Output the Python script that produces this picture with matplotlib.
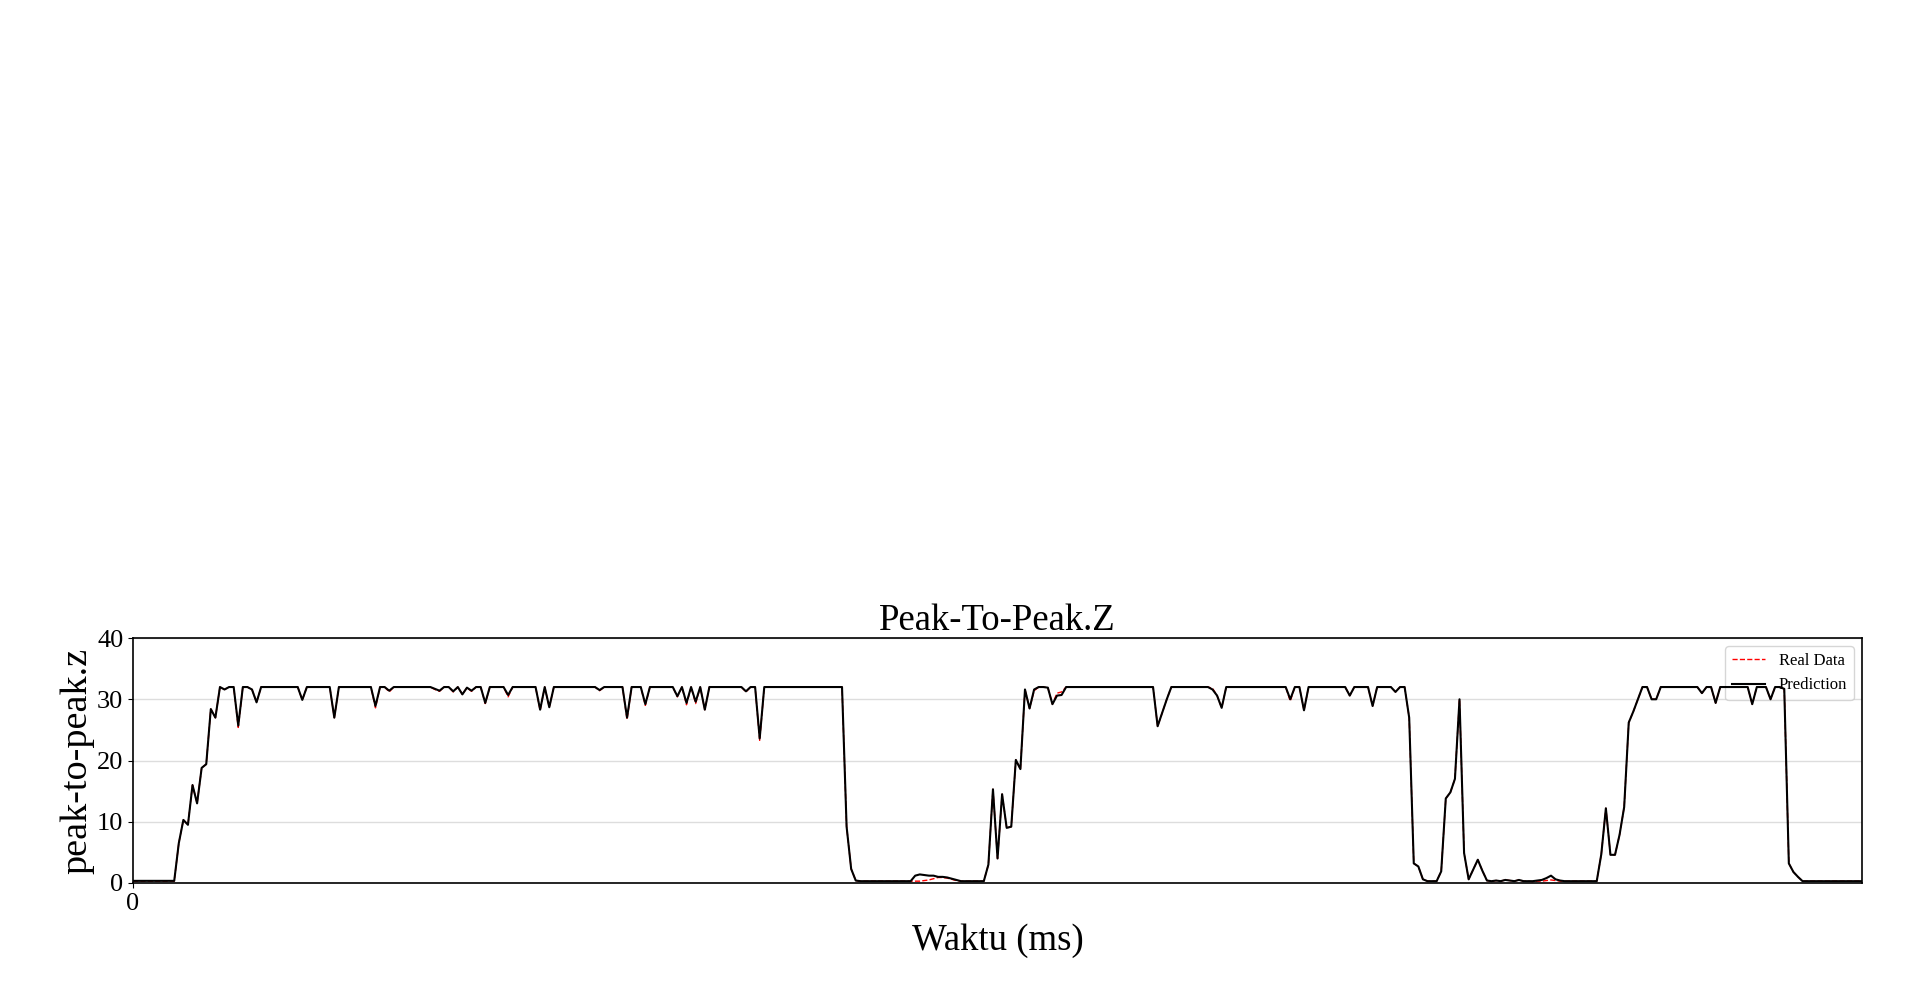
import matplotlib
matplotlib.use('Agg')
from matplotlib import pyplot as plt

plt.rcParams['font.family'] = ['Liberation Serif', 'DejaVu Serif']

# values (one point per sample)
real_data = [
    0.3, 0.3, 0.3, 0.3, 0.3, 0.3, 0.3, 0.3, 0.3, 0.3, 6.5, 10.3, 9.5, 16.0, 13.0, 18.8, 19.4, 28.4, 27.0, 32.0,
    31.6, 32.0, 32.0, 25.4, 32.0, 32.0, 31.6, 29.5, 32.0, 32.0, 32.0, 32.0, 32.0, 32.0, 32.0, 32.0, 32.0, 29.9, 32.0, 32.0,
    32.0, 32.0, 32.0, 32.0, 27.0, 32.0, 32.0, 32.0, 32.0, 32.0, 32.0, 32.0, 32.0, 28.6, 32.0, 32.0, 31.2, 32.0, 32.0, 32.0,
    32.0, 32.0, 32.0, 32.0, 32.0, 32.0, 31.6, 31.3, 32.0, 32.0, 31.2, 32.0, 30.8, 31.9, 31.3, 32.0, 32.0, 29.3, 32.0, 32.0,
    32.0, 32.0, 30.4, 32.0, 32.0, 32.0, 32.0, 32.0, 32.0, 28.2, 32.0, 28.7, 32.0, 32.0, 32.0, 32.0, 32.0, 32.0, 32.0, 32.0,
    32.0, 32.0, 31.4, 32.0, 32.0, 32.0, 32.0, 32.0, 26.7, 32.0, 32.0, 32.0, 29.0, 32.0, 32.0, 32.0, 32.0, 32.0, 32.0, 30.4,
    32.0, 29.1, 32.0, 29.3, 32.0, 28.3, 32.0, 32.0, 32.0, 32.0, 32.0, 32.0, 32.0, 32.0, 31.2, 32.0, 32.0, 23.3, 32.0, 32.0,
    32.0, 32.0, 32.0, 32.0, 32.0, 32.0, 32.0, 32.0, 32.0, 32.0, 32.0, 32.0, 32.0, 32.0, 32.0, 32.0, 9.2, 2.3, 0.4, 0.3,
    0.3, 0.3, 0.3, 0.3, 0.3, 0.3, 0.3, 0.3, 0.3, 0.3, 0.3, 0.3, 0.3, 0.4, 0.5, 0.7, 0.9, 0.9, 0.8, 0.6,
    0.4, 0.3, 0.3, 0.3, 0.3, 0.3, 0.3, 3.0, 15.3, 4.0, 14.5, 9.0, 9.2, 20.1, 18.6, 31.6, 28.5, 31.4, 32.0, 32.0,
    31.9, 29.2, 31.0, 31.2, 32.0, 32.0, 32.0, 32.0, 32.0, 32.0, 32.0, 32.0, 32.0, 32.0, 32.0, 32.0, 32.0, 32.0, 32.0, 32.0,
    32.0, 32.0, 32.0, 32.0, 25.6, 27.8, 30.0, 32.0, 32.0, 32.0, 32.0, 32.0, 32.0, 32.0, 32.0, 32.0, 31.8, 30.6, 28.6, 32.0,
    32.0, 32.0, 32.0, 32.0, 32.0, 32.0, 32.0, 32.0, 32.0, 32.0, 32.0, 32.0, 32.0, 29.7, 32.0, 32.0, 28.2, 32.0, 32.0, 32.0,
    32.0, 32.0, 32.0, 32.0, 32.0, 32.0, 30.6, 32.0, 32.0, 32.0, 32.0, 28.9, 32.0, 32.0, 32.0, 32.0, 31.2, 32.0, 32.0, 27.0,
    3.2, 2.7, 0.6, 0.3, 0.3, 0.3, 1.9, 13.8, 14.8, 17.0, 30.0, 4.9, 0.6, 2.2, 3.8, 2.0, 0.4, 0.3, 0.4, 0.3,
    0.5, 0.4, 0.3, 0.5, 0.3, 0.3, 0.2, 0.3, 0.3, 0.4, 0.5, 0.4, 0.3, 0.3, 0.3, 0.3, 0.3, 0.3, 0.3, 0.3,
    0.3, 4.7, 12.2, 4.6, 4.6, 7.9, 12.4, 26.2, 28.0, 30.0, 32.0, 32.0, 30.0, 30.0, 32.0, 32.0, 32.0, 32.0, 32.0, 32.0,
    32.0, 32.0, 32.0, 31.0, 32.0, 32.0, 29.4, 32.0, 32.0, 32.0, 32.0, 32.0, 32.0, 32.0, 29.2, 32.0, 32.0, 32.0, 30.0, 32.0,
    32.0, 31.7, 3.2, 1.8, 1.0, 0.3, 0.3, 0.3, 0.3, 0.3, 0.3, 0.3, 0.3, 0.3, 0.3, 0.3, 0.3, 0.3, 0.3,
]

prediction = [
    0.35, 0.35, 0.35, 0.35, 0.35, 0.35, 0.35, 0.35, 0.35, 0.35, 6.5, 10.3, 9.5, 16.0, 13.0, 18.8, 19.4, 28.4, 27.0, 32.0,
    31.6, 32.0, 32.0, 25.7, 32.0, 32.0, 31.6, 29.5, 32.0, 32.0, 32.0, 32.0, 32.0, 32.0, 32.0, 32.0, 32.0, 29.9, 32.0, 32.0,
    32.0, 32.0, 32.0, 32.0, 27.0, 32.0, 32.0, 32.0, 32.0, 32.0, 32.0, 32.0, 32.0, 28.9, 32.0, 32.0, 31.4, 32.0, 32.0, 32.0,
    32.0, 32.0, 32.0, 32.0, 32.0, 32.0, 31.7, 31.4, 32.0, 32.0, 31.3, 32.0, 30.8, 31.9, 31.4, 32.0, 32.0, 29.4, 32.0, 32.0,
    32.0, 32.0, 30.7, 32.0, 32.0, 32.0, 32.0, 32.0, 32.0, 28.3, 32.0, 28.7, 32.0, 32.0, 32.0, 32.0, 32.0, 32.0, 32.0, 32.0,
    32.0, 32.0, 31.5, 32.0, 32.0, 32.0, 32.0, 32.0, 27.0, 32.0, 32.0, 32.0, 29.2, 32.0, 32.0, 32.0, 32.0, 32.0, 32.0, 30.5,
    32.0, 29.4, 32.0, 29.6, 32.0, 28.3, 32.0, 32.0, 32.0, 32.0, 32.0, 32.0, 32.0, 32.0, 31.3, 32.0, 32.0, 23.6, 32.0, 32.0,
    32.0, 32.0, 32.0, 32.0, 32.0, 32.0, 32.0, 32.0, 32.0, 32.0, 32.0, 32.0, 32.0, 32.0, 32.0, 32.0, 9.2, 2.3, 0.4, 0.3,
    0.3, 0.3, 0.3, 0.3, 0.3, 0.3, 0.3, 0.3, 0.3, 0.3, 0.3, 1.2, 1.4, 1.3, 1.2, 1.2, 1.0, 1.0, 0.9, 0.7,
    0.5, 0.3, 0.3, 0.3, 0.3, 0.3, 0.3, 3.0, 15.3, 4.0, 14.5, 9.0, 9.2, 20.1, 18.6, 31.6, 28.5, 31.6, 32.0, 32.0,
    31.9, 29.2, 30.6, 30.7, 32.0, 32.0, 32.0, 32.0, 32.0, 32.0, 32.0, 32.0, 32.0, 32.0, 32.0, 32.0, 32.0, 32.0, 32.0, 32.0,
    32.0, 32.0, 32.0, 32.0, 25.6, 27.8, 30.0, 32.0, 32.0, 32.0, 32.0, 32.0, 32.0, 32.0, 32.0, 32.0, 31.6, 30.6, 28.6, 32.0,
    32.0, 32.0, 32.0, 32.0, 32.0, 32.0, 32.0, 32.0, 32.0, 32.0, 32.0, 32.0, 32.0, 30.0, 32.0, 32.0, 28.2, 32.0, 32.0, 32.0,
    32.0, 32.0, 32.0, 32.0, 32.0, 32.0, 30.6, 32.0, 32.0, 32.0, 32.0, 28.9, 32.0, 32.0, 32.0, 32.0, 31.2, 32.0, 32.0, 27.0,
    3.2, 2.7, 0.6, 0.3, 0.3, 0.3, 1.9, 13.8, 14.8, 17.0, 30.0, 4.9, 0.6, 2.2, 3.8, 2.0, 0.4, 0.3, 0.4, 0.3,
    0.5, 0.4, 0.3, 0.5, 0.3, 0.3, 0.3, 0.4, 0.5, 0.8, 1.2, 0.6, 0.4, 0.3, 0.3, 0.3, 0.3, 0.3, 0.3, 0.3,
    0.3, 4.7, 12.2, 4.6, 4.6, 7.9, 12.4, 26.2, 28.0, 30.0, 32.0, 32.0, 30.0, 30.0, 32.0, 32.0, 32.0, 32.0, 32.0, 32.0,
    32.0, 32.0, 32.0, 31.0, 32.0, 32.0, 29.4, 32.0, 32.0, 32.0, 32.0, 32.0, 32.0, 32.0, 29.2, 32.0, 32.0, 32.0, 30.0, 32.0,
    32.0, 31.7, 3.2, 1.8, 1.0, 0.3, 0.3, 0.3, 0.3, 0.3, 0.3, 0.3, 0.3, 0.3, 0.3, 0.3, 0.3, 0.3, 0.3,
]

samples = list(range(len(prediction)))
y_ticks = [0, 10, 20, 30, 40]
x_ticks = [0]

fig = plt.figure(figsize=(19.2, 9.81), dpi=100)
ax = fig.add_axes([0.0693, 0.0999, 0.9005, 0.2497])

ax.plot(samples, real_data, 'r--', linewidth=1, label='Real Data')
ax.plot(samples, prediction, 'k-', linewidth=1.5, label='Prediction')

ax.set_xlim(0, len(prediction) - 1)
ax.set_ylim(0, 40)
ax.set_yticks(y_ticks)
ax.set_xticks(x_ticks)
ax.tick_params(labelsize=19)
ax.grid(axis='y', color='#dddddd', linewidth=1)
ax.set_axisbelow(True)
for s in ax.spines.values():
    s.set_linewidth(1.2)

ax.set_title('Peak-To-Peak.Z', fontsize=26.5, pad=6)
ax.set_xlabel('Waktu (ms)', fontsize=26.5, labelpad=6)
ax.set_ylabel('peak-to-peak.z', fontsize=27.5, labelpad=2)
leg = ax.legend(loc='upper right', fontsize=12, handlelength=2.0, labelspacing=0.5)
leg.set_zorder(1)  # data lines show over the legend box like in the original

plt.savefig('out.png', dpi=100)
